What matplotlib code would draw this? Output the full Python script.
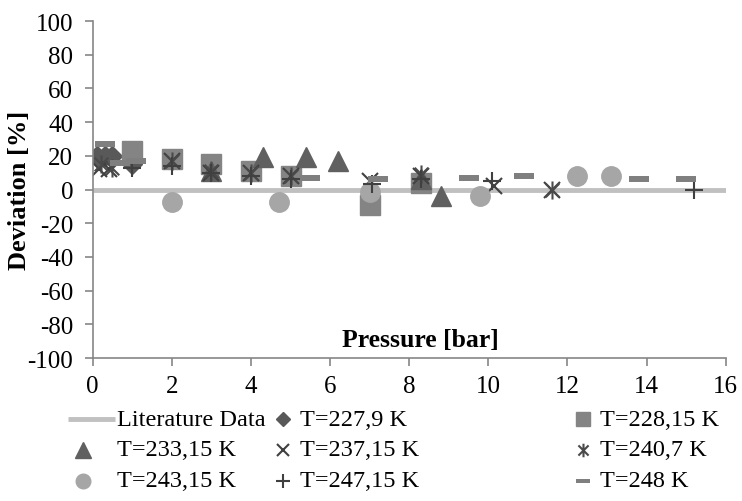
import matplotlib
matplotlib.use("Agg")
import matplotlib.pyplot as plt
from matplotlib.path import Path
from matplotlib.lines import Line2D

plt.rcParams['font.family'] = ['Liberation Serif', 'DejaVu Serif']

# ---- data ----
lit_p = [0, 16]
lit_d = [0, 0]

p_2279 = [0.1, 0.3, 0.5, 1.0]
d_2279 = [20, 20, 20, 15]

p_22815 = [1.0, 2.0, 3.0, 4.0, 5.0, 7.0, 8.3]
d_22815 = [23, 18, 15, 11, 8, -9, 4]

p_23315 = [3.0, 4.3, 5.4, 6.2, 8.3, 8.8]
d_23315 = [11, 19, 19, 17, 6, -4]

p_23715 = [0.15, 0.4, 2.0, 3.0, 4.0, 5.0, 7.0, 8.3, 10.15, 11.6]
d_23715 = [12, 12, 17, 10, 10, 8, 5, 8, 2, 0]

p_2407 = [0.2, 0.5, 2.0, 3.0, 4.0, 5.0, 8.3, 11.6]
d_2407 = [15, 13, 17, 11, 10, 8, 9, 0]

p_24315 = [2.0, 4.7, 7.0, 9.8, 12.25, 13.1]
d_24315 = [-7.5, -7.5, -1.5, -4, 8, 8]

p_24715 = [1.0, 2.0, 3.0, 4.0, 5.0, 7.05, 8.3, 10.1, 15.2]
d_24715 = [13, 14, 10, 8, 6, 3, 6, 5, 0]

p_248 = [0.3, 0.7, 1.1, 5.5, 7.2, 9.5, 10.9, 13.8, 15.0]
d_248 = [27, 16, 17, 7, 6.5, 7, 8, 6, 6]

labels = ["Literature Data", "T=227,9 K", "T=228,15 K", "T=233,15 K",
          "T=237,15 K", "T=240,7 K", "T=243,15 K", "T=247,15 K", "T=248 K"]

x_ticks = [0, 2, 4, 6, 8, 10, 12, 14, 16]
y_ticks = [-100, -80, -60, -40, -20, 0, 20, 40, 60, 80, 100]

# custom markers
ast_path = Path([(0, -1), (0, 1), (-0.75, -0.75), (0.75, 0.75), (-0.75, 0.75), (0.75, -0.75)],
                [Path.MOVETO, Path.LINETO, Path.MOVETO, Path.LINETO, Path.MOVETO, Path.LINETO])
dash_path = Path([(-1, -0.26), (1, -0.26), (1, 0.26), (-1, 0.26), (-1, -0.26)],
                 [Path.MOVETO, Path.LINETO, Path.LINETO, Path.LINETO, Path.CLOSEPOLY])

W, H = 742, 502
fig = plt.figure(figsize=(W / 100, H / 100), dpi=100)
ax = fig.add_axes([92.7 / W, 1 - 359 / H, (725.7 - 92.7) / W, (359 - 22) / H])

styles = [
    dict(color='#c0c0c0', lw=3.5, solid_capstyle='butt'),
    dict(ls='none', marker='D', ms=10, color='#595959', mec='#595959'),
    dict(ls='none', marker='s', ms=14, color='#848484', mec='#848484'),
    dict(ls='none', marker='^', ms=15, color='#606060', mec='#606060'),
    dict(ls='none', marker='x', ms=12, mew=1.5, color='#404040'),
    dict(ls='none', marker=ast_path, ms=13, mew=1.5, color='#4a4a4a'),
    dict(ls='none', marker='o', ms=14, color='#a6a6a6', mec='#a6a6a6'),
    dict(ls='none', marker='+', ms=13, mew=1.5, color='#404040'),
    dict(ls='none', marker=dash_path, ms=14, color='#7f7f7f', mec='#7f7f7f', mew=0),
]
series = [(lit_p, lit_d), (p_2279, d_2279), (p_22815, d_22815), (p_23315, d_23315),
          (p_23715, d_23715), (p_2407, d_2407), (p_24315, d_24315), (p_24715, d_24715),
          (p_248, d_248)]
for (px, py), st, lab in zip(series, styles, labels):
    ax.plot(px, py, label=lab, **st)

ax.set_xlim(0, 16)
ax.set_ylim(-100, 100)
ax.set_xticks(x_ticks)
ax.set_yticks(y_ticks)
ax.set_yticklabels([str(v) for v in y_ticks])
for s in ['top', 'right']:
    ax.spines[s].set_visible(False)
for s in ['left', 'bottom']:
    ax.spines[s].set_color('#868686')
    ax.spines[s].set_linewidth(1.2)
ax.tick_params(axis='both', direction='out', length=6, width=1.2, color='#868686',
               labelsize=18, labelcolor='black')
ax.tick_params(axis='y', pad=8)
ax.tick_params(axis='x', pad=6)

fig.text(20 / W, 1 - 190.5 / H, "Deviation [%]", rotation=90, ha='center', va='center',
         fontsize=19, fontweight='bold')
ax.text(0.518, 0.055, "Pressure [bar]", transform=ax.transAxes, ha='center', va='center',
        fontsize=18.5, fontweight='bold')

# ---- legend (Excel-like layout, 3 x 3, row-wise) ----
row_y = [420, 451, 482]
col_marker_x = [83, 283, 583]
col_text_x = [117, 300, 600]
leg_scale = 0.75
for i, (st, lab) in enumerate(zip(styles, labels)):
    r, c = divmod(i, 3)
    y = 1 - row_y[r] / H
    if i == 0:
        fig.add_artist(Line2D([68 / W, 115 / W], [y, y], transform=fig.transFigure,
                              color='#c0c0c0', lw=3.5, solid_capstyle='butt'))
    else:
        s2 = dict(st)
        s2['ms'] = st['ms'] * leg_scale
        fig.add_artist(Line2D([col_marker_x[c] / W], [y], transform=fig.transFigure, **s2))
    fig.text(col_text_x[c] / W, y, lab, ha='left', va='center', fontsize=17.5)

fig.savefig("out.png", dpi=100)
